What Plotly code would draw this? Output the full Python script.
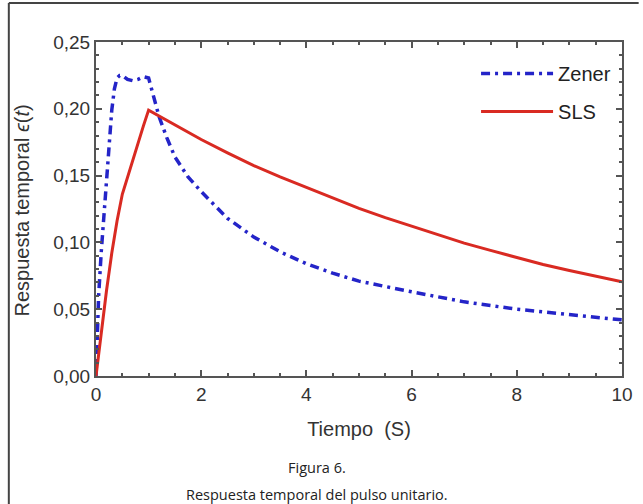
import plotly.graph_objects as go

# Time axis (s) and responses read for each model
t_zener = [0, 0.05, 0.1, 0.15, 0.2, 0.25, 0.3, 0.35, 0.4, 0.45, 0.5, 0.6, 0.7,
           0.8, 0.9, 1.0, 1.1, 1.2, 1.35, 1.5, 1.75, 2.0, 2.5, 3.0, 3.5, 4.0,
           4.5, 5.0, 6.0, 7.0, 8.0, 9.0, 10.0]
eps_zener = [0.0, 0.060, 0.093, 0.118, 0.145, 0.172, 0.199, 0.215, 0.223, 0.225,
             0.225, 0.222, 0.221, 0.222, 0.224, 0.223, 0.208, 0.194, 0.178, 0.164,
             0.149, 0.138, 0.118, 0.104, 0.093, 0.084, 0.077, 0.071, 0.063, 0.0555,
             0.050, 0.046, 0.042]

t_sls = [0, 0.1, 0.2, 0.3, 0.4, 0.5, 0.6, 0.7, 0.8, 0.9, 1.0, 1.5, 2.0, 2.5,
         3.0, 3.5, 4.0, 4.5, 5.0, 5.5, 6.0, 6.5, 7.0, 7.5, 8.0, 8.5, 9.0, 9.5, 10.0]
eps_sls = [0.0, 0.033, 0.064, 0.092, 0.116, 0.136, 0.149, 0.162, 0.175, 0.187,
           0.199, 0.188, 0.177, 0.167, 0.1575, 0.149, 0.141, 0.133, 0.1255, 0.1185,
           0.112, 0.1055, 0.0995, 0.094, 0.0885, 0.0835, 0.079, 0.0745, 0.0705]

x_ticks = [0, 2, 4, 6, 8, 10]
y_ticks = [0.0, 0.05, 0.10, 0.15, 0.20, 0.25]

W, H = 643, 504
L, R, T, B = 96, 10, 42, 128
PW, PH = W - L - R, H - T - B


def px(x):
    return (x - L) / PW


def py(y):
    return (H - B - y) / PH


fig = go.Figure()
fig.add_trace(go.Scatter(
    x=t_zener, y=eps_zener, mode="lines", name="Zener", legendgroup="a",
    line=dict(color="#2424c8", width=3.5, dash="9px,5px,3px,5px"),
))
fig.add_trace(go.Scatter(
    x=t_sls, y=eps_sls, mode="lines", name="SLS", legendgroup="b",
    line=dict(color="#d92a22", width=3),
))

sans = "Liberation Sans, Arial, sans-serif"
axis_font = dict(family=sans, size=19, color="#333333")
title_font = dict(family=sans, size=20, color="#333333")
common = dict(
    showline=True, linecolor="#555555", linewidth=2, mirror="ticks",
    ticks="inside", ticklen=6, tickwidth=1.5, tickcolor="#555555",
    showgrid=False, zeroline=False, tickfont=axis_font,
)

fig.update_xaxes(
    range=[0, 10], tickvals=x_ticks, ticktext=[str(v) for v in x_ticks],
    minor=dict(ticks="inside", dtick=0.5, ticklen=3, tickwidth=1.5, tickcolor="#555555"),
    title=dict(text="Tiempo\u00a0\u00a0(S)", font=title_font, standoff=18),
    **common,
)
fig.update_yaxes(
    range=[0, 0.25], tickvals=y_ticks, tickformat=".2f",
    minor=dict(ticks="inside", dtick=0.01, ticklen=3, tickwidth=1.5, tickcolor="#555555"),
    **common,
)

# Vertical axis title placed as a rotated annotation
fig.add_annotation(text="Respuesta temporal <i>\u03f5</i>(<i>t</i>)", xref="paper", yref="paper",
                   x=px(20), y=py(211), xanchor="center", yanchor="middle", textangle=-90,
                   showarrow=False, font=title_font)

caption_font = dict(family="Open Sans, Noto Sans, sans-serif", size=14.5, color="#222222")
fig.add_annotation(text="Figura 6.", xref="paper", yref="paper", x=px(322), y=py(467),
                   xanchor="center", yanchor="middle", showarrow=False, font=caption_font)
fig.add_annotation(text="Respuesta temporal del pulso unitario.", xref="paper", yref="paper",
                   x=px(322), y=py(494), xanchor="center", yanchor="middle",
                   showarrow=False, font=caption_font)

# Frame around the figure
frame = dict(color="#444444", width=2)
fig.add_shape(type="line", xref="paper", yref="paper", x0=px(7), x1=px(7), y0=py(3), y1=py(510), line=frame)
fig.add_shape(type="line", xref="paper", yref="paper", x0=px(7), x1=px(650), y0=py(3), y1=py(3), line=frame)

fig.update_layout(
    width=W, height=H,
    margin=dict(l=L, r=R, t=T, b=B),
    paper_bgcolor="white", plot_bgcolor="white",
    separators=",.",
    legend=dict(x=px(484), y=py(54), xanchor="left", yanchor="top",
                bgcolor="rgba(0,0,0,0)", font=dict(family=sans, size=20, color="#222222"),
                tracegroupgap=9, traceorder="grouped", itemwidth=72),
    showlegend=True,
)

fig.write_html("out.html")
